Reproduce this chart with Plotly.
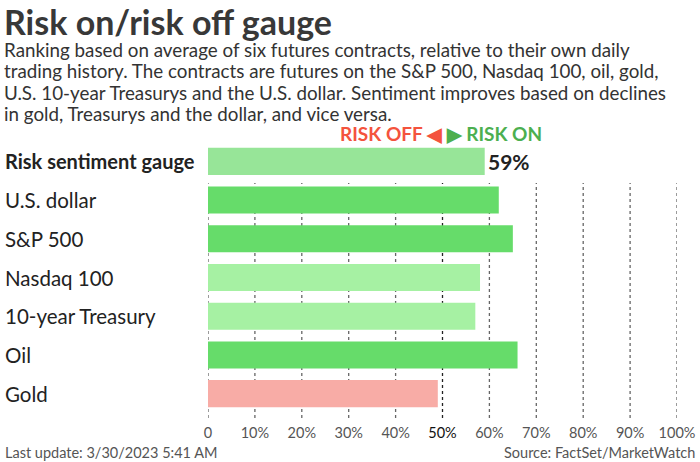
import plotly.graph_objects as go

# ---- data ----
categories = ["Risk sentiment gauge", "U.S. dollar", "S&P 500", "Nasdaq 100",
              "10-year Treasury", "Oil", "Gold"]
values = [59, 62, 65, 58, 57, 66, 49]
bar_colors = ["#97e598", "#66dc6a", "#66dc6a", "#a6f1a3", "#a6f1a3", "#66dc6a", "#f8aca6"]
tick_vals = [0, 10, 20, 30, 40, 50, 60, 70, 80, 90, 100]
tick_labels = ["0", "10%", "20%", "30%", "40%", "50%", "60%", "70%", "80%", "90%", "100%"]

title = "Risk on/risk off gauge"
subtitle_lines = [
    "Ranking based on average of six futures contracts, relative to their own daily",
    "trading history. The contracts are futures on the S&P 500, Nasdaq 100, oil, gold,",
    "U.S. 10-year Treasurys and the U.S. dollar. Sentiment improves based on declines",
    "in gold, Treasurys and the dollar, and vice versa.",
]
footer_left = "Last update: 3/30/2023 5:41 AM"
footer_right = "Source: FactSet/MarketWatch"

# ---- layout geometry (pixels) ----
W, H = 700, 462
L, R, T, B = 208, 23, 142, 49
PW, PH = W - L - R, H - T - B
FONT = "Lato"


def px_x(px):
    return (px - L) / PW


def px_y(py):
    return (H - B - py) / PH


fig = go.Figure()
fig.add_trace(go.Bar(
    y=categories, x=values, orientation="h",
    marker=dict(color=bar_colors, line=dict(width=0)),
    width=0.7, hoverinfo="skip",
))

ticktext = []
for v, t in zip(tick_vals, tick_labels):
    if v == 50:
        ticktext.append("<span style='color:#111111'>%s</span>" % t)
    else:
        ticktext.append(t)

shapes = []
for v in tick_vals:
    shapes.append(dict(
        type="line", xref="x", yref="paper", x0=v, x1=v,
        y0=px_y(418), y1=px_y(183),
        line=dict(color="#222222" if v == 50 else "#666666", width=1.3, dash="dot"),
        layer="below",
    ))

annotations = []
for i, c in enumerate(categories):
    annotations.append(dict(
        text=c, xref="paper", yref="y", x=px_x(3), y=c,
        xanchor="left", yanchor="middle", showarrow=False,
        font=dict(family=FONT, size=20 if i == 0 else 20.5, color="#222222",
                  weight="bold" if i == 0 else "normal"),
    ))

annotations.append(dict(
    text="%d%%" % values[0], xref="x", yref="y", x=values[0], y=categories[0],
    xanchor="left", yanchor="middle", xshift=1, showarrow=False,
    font=dict(family=FONT, size=21, color="#222222", weight="bold"),
))

annotations.append(dict(
    text="<span style='color:#f4533d'>RISK OFF ◀</span> <span style='color:#4caf50'>▶ RISK ON</span>",
    xref="x", yref="paper", x=50, y=px_y(133), xanchor="center", yanchor="middle",
    xshift=-2, showarrow=False, font=dict(family=FONT, size=19, weight="bold"),
))

annotations.append(dict(
    text=title, xref="paper", yref="paper", x=px_x(2), y=px_y(21),
    xanchor="left", yanchor="middle", showarrow=False,
    font=dict(family=FONT, size=34, color="#383838", weight="bold"),
))
for k, line in enumerate(subtitle_lines):
    annotations.append(dict(
        text=line, xref="paper", yref="paper", x=px_x(2), y=px_y(49 + 21.5 * k),
        xanchor="left", yanchor="middle", showarrow=False,
        font=dict(family=FONT, size=18.8, color="#333333"),
    ))

annotations.append(dict(
    text=footer_left, xref="paper", yref="paper", x=px_x(3), y=px_y(452),
    xanchor="left", yanchor="middle", showarrow=False,
    font=dict(family=FONT, size=14.5, color="#555555"),
))
annotations.append(dict(
    text=footer_right, xref="paper", yref="paper", x=px_x(697), y=px_y(452),
    xanchor="right", yanchor="middle", showarrow=False,
    font=dict(family=FONT, size=14.5, color="#555555"),
))

fig.update_layout(
    width=W, height=H,
    margin=dict(l=L, r=R, t=T, b=B, autoexpand=False),
    paper_bgcolor="white", plot_bgcolor="white",
    showlegend=False,
    xaxis=dict(range=[0, 100], tickvals=tick_vals, ticktext=ticktext,
               showgrid=False, zeroline=False, showline=False, ticks="",
               tickfont=dict(family=FONT, size=14.5, color="#555555"),
               ticklabelstandoff=9, automargin=False, fixedrange=True),
    yaxis=dict(range=[6.5, -0.5], showticklabels=False, showgrid=False,
               zeroline=False, showline=False, ticks="", automargin=False,
               fixedrange=True),
    shapes=shapes,
    annotations=annotations,
    bargap=0.3,
)

fig.write_html("out.html", config={"displayModeBar": False},
               post_script="document.body.style.margin='0';")
